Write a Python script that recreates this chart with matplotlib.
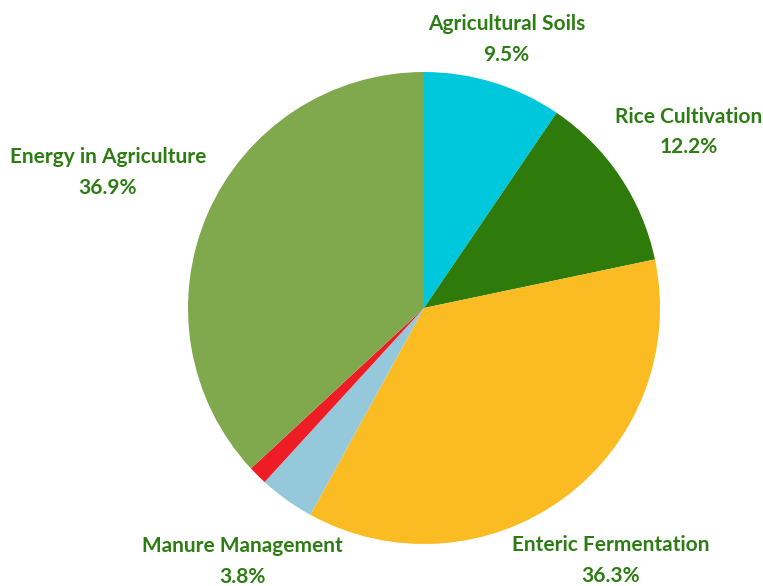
import matplotlib.pyplot as plt

# data ===========================================================
categories = ["Agricultural Soils", "Rice Cultivation", "Enteric Fermentation",
              "Manure Management", "Other", "Energy in Agriculture"]
shares = [9.5, 12.2, 36.3, 3.8, 1.3, 36.9]
show_label = [True, True, True, True, False, True]
colors = ["#00c8dc", "#2e7a0a", "#fbbb22", "#96c8dc", "#ee1c25", "#80a84c"]
# ================================================================

# label centres in pie-radius units (layout only)
label_pos = [(0.35, 1.137), (1.12, 0.746), (0.79, -1.07),
             (-0.77, -1.075), None, (-1.34, 0.574)]

W, H = 763, 586
CX, CY, R = 424, 308, 236   # pie centre and radius in pixels

fig = plt.figure(figsize=(W / 100, H / 100), dpi=100)
ax = fig.add_axes([(CX - R) / W, (H - CY - R) / H, 2 * R / W, 2 * R / H])

ax.pie(shares, colors=colors, startangle=90, counterclock=False,
       radius=1, wedgeprops=dict(linewidth=0))
ax.set_xlim(-1, 1)
ax.set_ylim(-1, 1)
ax.set_aspect("equal")
ax.axis("off")

for name, val, show, pos in zip(categories, shares, show_label, label_pos):
    if not show:
        continue
    ax.text(pos[0], pos[1], f"{name}\n{val}%", ha="center", va="center",
            fontsize=15, fontweight="bold", family="Lato", color="#2e7d14",
            linespacing=1.65, clip_on=False)

fig.savefig("out.png", dpi=100)
